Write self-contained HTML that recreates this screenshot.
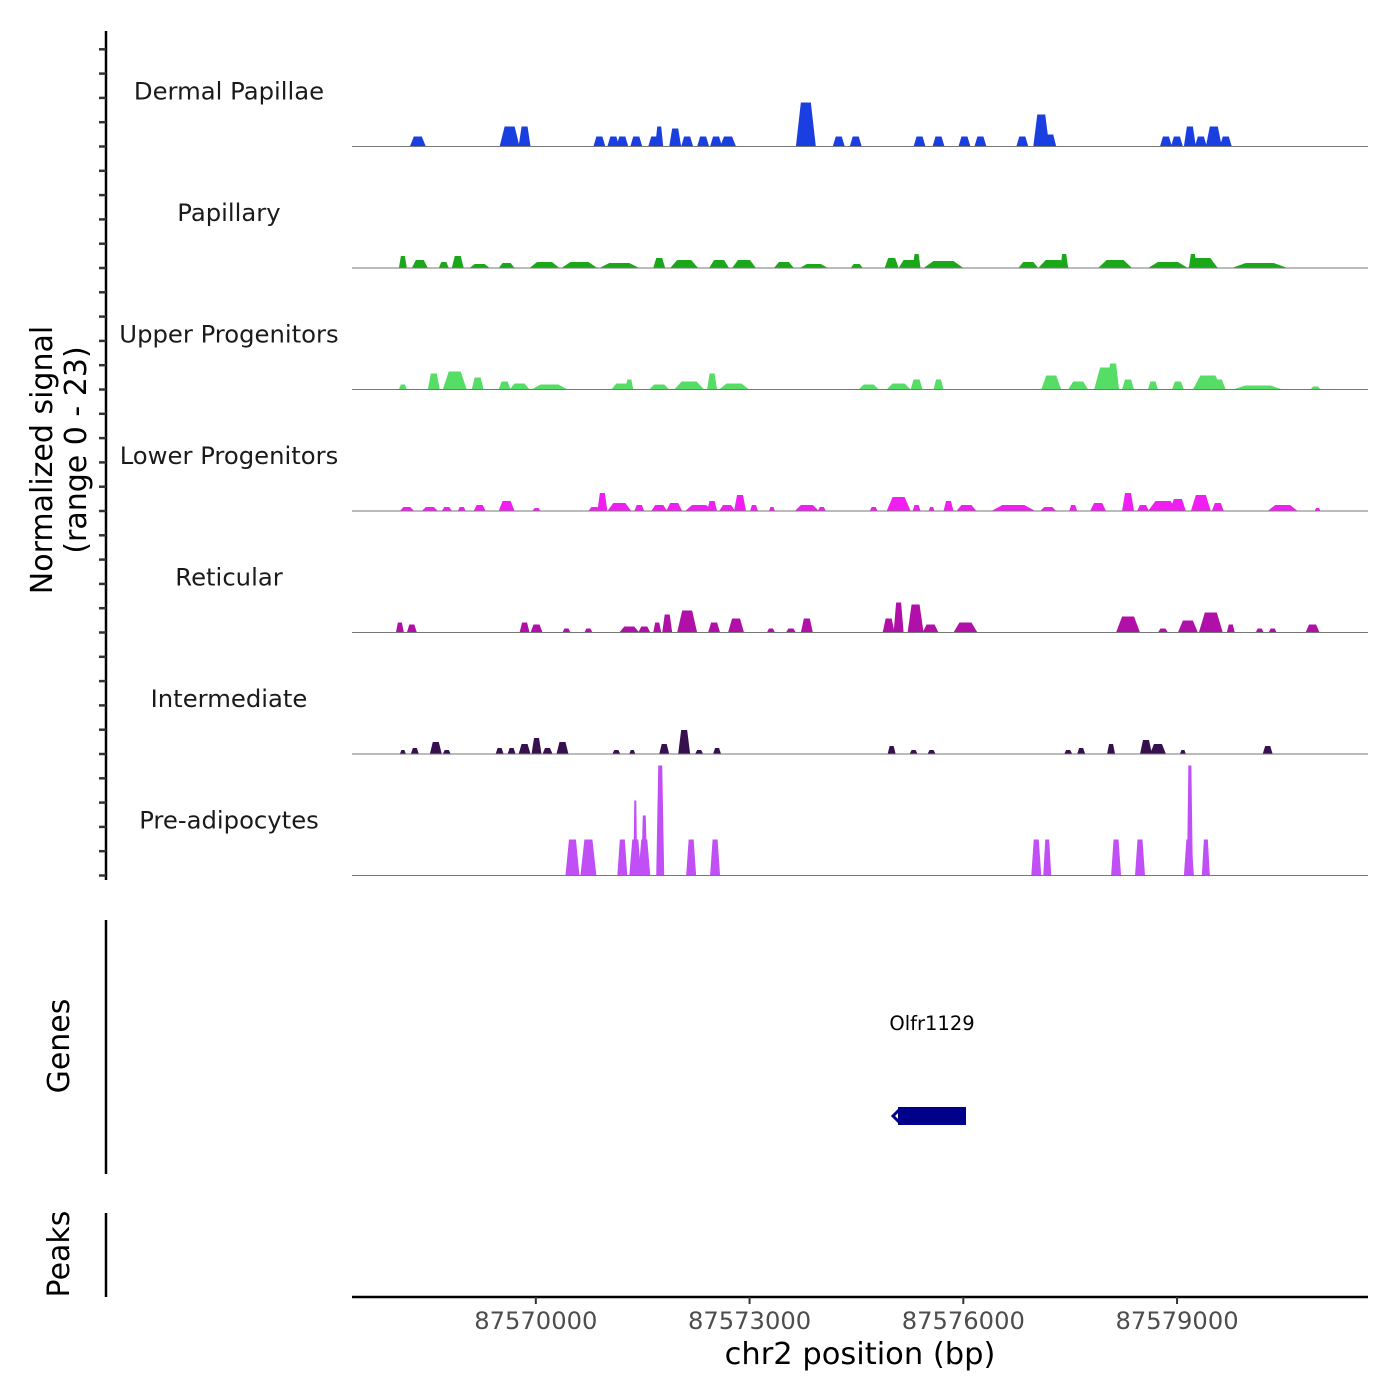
<!DOCTYPE html>
<html><head><meta charset="utf-8"><style>
body{margin:0;background:#fff;}
svg{display:block;font-family:"DejaVu Sans","Liberation Sans",sans-serif;}
</style></head><body>
<svg id="chart" width="1400" height="1400" viewBox="0 0 1400 1400" xmlns="http://www.w3.org/2000/svg">
<g id="tracks"></g>
<g id="yaxis">
<line x1="106" y1="31" x2="106" y2="880" stroke="#000" stroke-width="2.5"/>
</g>
<text transform="translate(52,460) rotate(-90)" text-anchor="middle" font-size="30" fill="#000">Normalized signal</text>
<text transform="translate(86,450) rotate(-90)" text-anchor="middle" font-size="30" fill="#000">(range 0 - 23)</text>
<g>
<line x1="106" y1="920" x2="106" y2="1174" stroke="#000" stroke-width="2.5"/>
<text transform="translate(69,1046) rotate(-90)" text-anchor="middle" font-size="30">Genes</text>
<text x="932" y="1030" text-anchor="middle" font-size="19.5">Olfr1129</text>
<rect x="898" y="1107" width="68" height="18" fill="#00008B"/>
<path d="M899,1110 L893,1116 L899,1122" stroke="#00008B" stroke-width="3" fill="none"/>
</g>
<g>
<line x1="106" y1="1213" x2="106" y2="1297" stroke="#000" stroke-width="2.5"/>
<text transform="translate(69,1254) rotate(-90)" text-anchor="middle" font-size="30">Peaks</text>
</g>
<g id="xaxis">
<line x1="352" y1="1297" x2="1368" y2="1297" stroke="#000" stroke-width="2.5"/>
</g>
<text x="860" y="1364" text-anchor="middle" font-size="30.5">chr2 position (bp)</text>
</svg>
<script>
const regionStart = 87567420;
const regionEnd = 87581680;
const xTicks = [87570000, 87573000, 87576000, 87579000];
const trackNames = ["Dermal Papillae","Papillary","Upper Progenitors","Lower Progenitors","Reticular","Intermediate","Pre-adipocytes"];
const trackColors = ["#1a3fe0","#1aa81a","#55dd66","#f01ef0","#b010a8","#36104f","#c050f5"];
// peaks: [offset from regionStart (bp), half-width (bp), signal]
const dermalPapillae = [[924,112,2],[2212,140,4],[2422,84,4],[3472,84,2],[3668,84,2],[3794,84,2],[3990,84,2],[4242,84,2],[4312,56,4],[4536,84,3.6],[4704,84,2],[4928,84,2],[5110,84,2],[5278,112,2],[6370,140,8.8],[6832,84,2],[7070,84,2],[7966,84,2],[8232,84,2],[8596,84,2],[8820,84,2],[9408,84,2],[9674,112,6.4],[9800,84,2.4],[11424,84,2],[11578,84,2],[11760,84,4],[11914,84,2],[12096,112,4],[12264,84,2]];
const papillary = [[714,56,2.4],[952,112,1.6],[1288,70,1.2],[1484,84,2.4],[1792,140,0.8],[2170,112,1],[2702,210,1.2],[3192,252,1.2],[3752,280,1],[4312,84,2],[4662,196,1.6],[5152,140,1.6],[5502,168,1.6],[6062,140,1.2],[6482,196,0.8],[7084,84,0.8],[7574,98,2],[7812,140,1.6],[7924,56,2.8],[8302,280,1.4],[9492,140,1.2],[9842,210,1.6],[9996,56,2.8],[10710,238,1.6],[11452,280,1.2],[11942,210,2],[11802,56,2.8],[12740,392,1]];
const upperProgenitors = [[714,56,1],[1148,84,3.2],[1442,168,3.6],[1764,84,2.4],[2142,84,1.6],[2352,140,1.2],[2772,252,1],[3780,140,1.2],[3892,56,2],[4312,140,1],[4732,210,1.6],[5054,70,3.2],[5362,210,1.2],[7252,140,1],[7672,168,1.2],[7924,84,2],[8232,70,2],[9814,140,2.8],[10192,140,1.6],[10584,168,4.4],[10682,84,5.2],[10892,84,2],[11242,70,1.6],[11592,84,1.6],[12012,210,2.8],[12152,112,2],[12712,350,0.8],[13524,70,0.6]];
const lowerProgenitors = [[770,98,0.8],[1092,112,0.8],[1330,70,0.8],[1540,56,0.8],[1792,84,1.2],[2170,112,2],[2590,56,0.6],[3402,84,0.8],[3514,70,3.6],[3752,168,1.6],[4032,70,1.2],[4312,112,1.2],[4522,112,1.6],[4872,196,1.2],[5054,70,2],[5264,112,1.2],[5446,84,3.2],[5642,56,1.2],[5894,42,0.8],[6384,168,1.2],[6594,56,0.8],[7322,56,0.8],[7672,168,2.8],[7924,56,1.2],[8134,42,0.8],[8372,70,2],[8624,140,1.2],[9282,308,1.2],[9772,112,0.8],[10122,56,1.2],[10472,112,1.6],[10892,84,3.6],[11102,84,1.2],[11382,210,2],[11592,112,2.4],[11914,140,3.2],[12152,84,1.6],[13062,210,1.2],[13552,42,0.6]];
const reticular = [[672,56,2],[840,70,1.6],[2422,70,2],[2590,84,1.6],[3010,56,0.8],[3318,56,0.8],[3892,140,1.2],[4102,84,1.2],[4284,56,2],[4424,70,3.6],[4704,140,4.4],[5082,84,2],[5390,112,2.8],[5880,56,0.8],[6160,70,0.8],[6384,84,2.8],[7532,84,2.8],[7672,70,6],[7910,112,5.6],[8120,112,1.6],[8610,168,2],[10892,168,3.2],[11382,70,0.8],[11732,140,2.4],[12054,168,4],[12334,56,1.6],[12740,56,0.8],[12922,56,0.8],[13482,98,1.6]];
const intermediate = [[714,42,0.8],[882,56,1.2],[1176,84,2.4],[1330,56,0.8],[2072,56,1.2],[2240,56,1.2],[2422,84,2],[2590,70,3.2],[2744,70,1.2],[2954,84,2.4],[3710,56,0.8],[3934,42,0.8],[4382,70,2],[4662,84,4.8],[4872,56,0.8],[5124,56,1.2],[7574,56,1.6],[7882,56,0.8],[8134,56,0.8],[10052,56,0.8],[10234,56,1.2],[10654,56,2],[11144,84,2.8],[11312,112,2],[11662,42,0.8],[12852,70,1.6]];
const preAdipocytes = [[3094,98,7.2],[3318,112,7.2],[3794,70,7.2],[3976,84,7.2],[3976,28,15],[4102,84,7.2],[4102,42,12],[4326,56,22],[4760,70,7.2],[5096,70,7.2],[9604,70,7.2],[9758,56,7.2],[10724,70,7.2],[11060,70,7.2],[11746,70,7.2],[11760,42,22],[11984,56,7.2]];
const trackData = [dermalPapillae,papillary,upperProgenitors,lowerProgenitors,reticular,intermediate,preAdipocytes];

const NS="http://www.w3.org/2000/svg";
const X0=352, X1=1368;
function xScale(bp){return X0+(bp-regionStart)/(regionEnd-regionStart)*(X1-X0);}
const trackH=121.5, firstBase=146.5, pxPerUnit=5;
function baseY(i){return firstBase+i*trackH;}
function yScale(i,v){return baseY(i)-v*pxPerUnit;}
const tracks=document.getElementById('tracks');
trackData.forEach((peaks,i)=>{
  const g=document.createElementNS(NS,'g');
  
  
  tracks.appendChild(g);
  peaks.forEach(p=>{
    const c=regionStart+p[0], hw=p[1];
    const xa=xScale(c-hw), xb=xScale(c-hw*0.5), xc=xScale(c+hw*0.5), xd=xScale(c+hw);
    const y0=baseY(i), y1=yScale(i,p[2]);
    const poly=document.createElementNS(NS,'polygon');
    poly.setAttribute('points',`${xa},${y0} ${xb},${y1} ${xc},${y1} ${xd},${y0}`);
    poly.setAttribute('fill',trackColors[i]);
    
    
    g.appendChild(poly);
  });
  const bl=document.createElementNS(NS,'line');
  bl.setAttribute('x1',X0);bl.setAttribute('x2',X1);
  bl.setAttribute('y1',baseY(i));bl.setAttribute('y2',baseY(i));
  bl.setAttribute('stroke','#777');bl.setAttribute('stroke-width','1');
  
  
  g.appendChild(bl);
  const t=document.createElementNS(NS,'text');
  t.setAttribute('x',229);t.setAttribute('y',baseY(i)-47);
  t.setAttribute('text-anchor','middle');t.setAttribute('font-size','24.3');
  t.setAttribute('fill','#1a1a1a');
  
  
  t.textContent=trackNames[i];
  g.appendChild(t);
});
const ya=document.getElementById('yaxis');
for(let k=0;k<=34;k++){
  const y=baseY(6)-k*trackH/5;
  const l=document.createElementNS(NS,'line');
  l.setAttribute('x1',99);l.setAttribute('x2',106);
  l.setAttribute('y1',y);l.setAttribute('y2',y);
  l.setAttribute('stroke','#333');l.setAttribute('stroke-width','2.5');
  
  
  ya.appendChild(l);
}
const xa=document.getElementById('xaxis');
xTicks.forEach(v=>{
  const x=xScale(v);
  const l=document.createElementNS(NS,'line');
  l.setAttribute('x1',x);l.setAttribute('x2',x);l.setAttribute('y1',1297);l.setAttribute('y2',1304);
  l.setAttribute('stroke','#333');l.setAttribute('stroke-width','2');
  
  
  xa.appendChild(l);
  const t=document.createElementNS(NS,'text');
  t.setAttribute('x',x);t.setAttribute('y',1329);t.setAttribute('text-anchor','middle');
  t.setAttribute('font-size','24.2');t.setAttribute('fill','#4d4d4d');
  
  
  t.textContent=String(v);
  xa.appendChild(t);
});
</script>
</body></html>
